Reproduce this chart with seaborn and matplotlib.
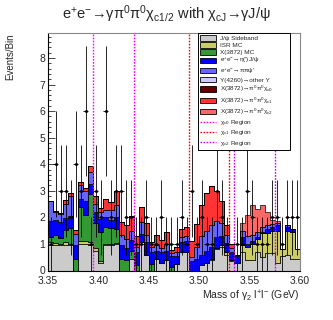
import numpy as np
import pandas as pd
import matplotlib
matplotlib.use("Agg")
import matplotlib.pyplot as plt
import seaborn as sns
from matplotlib.patches import Patch
from matplotlib.lines import Line2D
from matplotlib.ticker import MultipleLocator, FormatStrFormatter

# ---------------- data ----------------
x_min, x_max, n_bins = 3.35, 3.60, 50

sideband = [0.96, 0.96, 0.96, 0.96, 0.96, 0.0, 1.0, 1.0, 0.96, 0.74,
            0.3, 0.96, 0.96, 1.0, 0.0, 0.0, 0.45, 0.0, 1.08, 0.58,
            0.0, 0.45, 0.3, 0.4, 0.0, 0.26, 0.7, 0.7, 0.0, 0.0,
            0.2, 0.3, 0.4, 0.8, 0.9, 0.6, 0.35, 0.3, 0.7, 0.4,
            0.4, 0.7, 0.5, 0.65, 0.65, 0.3, 0.55, 0.6, 0.45, 0.45]
isr_mc = [0.1, 0.08, 0.05, 0.1, 0.05, 0.0, 0.1, 0.1, 0.12, 0.1,
          0.05, 0.05, 0.05, 0.05, 0.0, 0.0, 0.0, 0.0, 0.0, 0.0,
          0.0, 0.0, 0.0, 0.0, 0.0, 0.0, 0.0, 0.0, 0.0, 0.0,
          0.0, 0.0, 0.02, 0.05, 0.05, 0.1, 0.05, 0.0, 0.25, 0.5,
          0.6, 0.5, 0.9, 0.75, 0.85, 1.2, 0.25, 0.9, 1.0, 0.35]
x3872_mc = [0.2, 0.3, 0.22, 0.45, 0.6, 0.45, 1.3, 1.0, 1.8, 0.94,
            1.1, 0.63, 0.6, 0.5, 0.45, 0.4, 0.3, 0.2, 0.0, 0.0,
            0.26, 0.0, 0.0, 0.0, 0.14, 0.0, 0.0, 0.0, 0.0, 0.0,
            0.0, 0.0, 0.0, 0.0, 0.0, 0.0, 0.0, 0.0, 0.0, 0.0,
            0.0, 0.0, 0.0, 0.0, 0.0, 0.0, 0.0, 0.0, 0.0, 0.0]
eta_jpsi = [0.6, 0.55, 0.6, 0.45, 0.45, 0.5, 0.3, 0.5, 0.38, 0.44,
            0.5, 0.38, 0.3, 0.45, 0.5, 0.45, 0.4, 0.5, 0.3, 0.5,
            0.44, 0.3, 0.4, 0.35, 0.4, 0.3, 0.38, 0.4, 0.35, 0.45,
            0.4, 0.45, 0.45, 0.4, 0.35, 0.35, 0.3, 0.25, 0.3, 0.1,
            0.1, 0.05, 0.05, 0.15, 0.15, 0.2, 0.0, 0.15, 0.1, 0.0]
pipi_psip = [0.75, 0.3, 0.3, 0.55, 0.75, 0.44, 0.5, 0.4, 0.44, 0.3,
             0.25, 0.25, 0.38, 0.45, 0.38, 0.35, 0.35, 0.2, 0.45, 0.25,
             0.19, 0.2, 0.15, 0.25, 0.1, 0.14, 0.19, 0.2, 0.15, 0.45,
             0.7, 0.75, 0.85, 0.6, 0.5, 0.3, 0.15, 0.05, 0.25, 0.3,
             0.25, 0.2, 0.2, 0.15, 0.1, 0.1, 0.0, 0.05, 0.0, 0.0]
y4260_other = [0.0] * n_bins
x_chic0 = [0.0] * n_bins
x_chic1 = [0.0, 0.05, 0.05, 0.14, 0.12, 0.13, 0.12, 0.1, 0.25, 0.3,
           0.15, 0.44, 0.28, 0.55, 0.5, 0.5, 0.55, 0.4, 0.57, 0.44,
           0.19, 0.38, 0.3, 0.46, 0.13, 0.2, 0.31, 0.35, 0.6, 0.85,
           1.15, 1.4, 1.45, 1.15, 0.8, 0.35, 0.15, 0.0, 0.0, 0.0,
           0.0, 0.0, 0.0, 0.0, 0.0, 0.0, 0.0, 0.0, 0.0, 0.0]
x_chic2 = [0.0] * 37 + [0.0, 0.3, 0.8, 1.1, 0.85, 0.8, 0.5, 0.15, 0.05,
                        0.0, 0.0, 0.0, 0.0]
data_counts = [1, 4, 3, 3, 2, 4, 3, 6, 1, 3,
               2, 6, 2, 3, 3, 2, 2, 1, 1, 2,
               1, 1, 2, 1, 1, 1, 2, 1, 3, 1,
               2, 1, 1, 3, 2, 1, 0, 1, 1, 3,
               2, 1, 1, 1, 2, 2, 1, 2, 2, 2]

chic0_region = [3.395, 3.435]
chic1_region = [3.49, 3.53]
chic2_region = [3.535, 3.575]

components = ["J/ψ Sideband", "ISR MC", "X(3872) MC",
              "e$^{+}$e$^{-}$→η(')J/ψ", "e$^{+}$e$^{-}$→ππψ'",
              "Y(4260)→other Y",
              "X(3872)→π$^{0}$π$^{0}$χ$_{c0}$",
              "X(3872)→π$^{0}$π$^{0}$χ$_{c1}$",
              "X(3872)→π$^{0}$π$^{0}$χ$_{c2}$"]
series = [sideband, isr_mc, x3872_mc, eta_jpsi, pipi_psip, y4260_other,
          x_chic0, x_chic1, x_chic2]
colors = ["#cbcbcb", "#cccc66", "#339933", "#0000ff", "#6666ff",
          "#ccccff", "#660000", "#ff3333", "#ff6666"]
region_colors = ["#ff00ff", "#ff0000", "#cc00ff"]
region_labels = ["χ$_{c0}$ Region", "χ$_{c1}$ Region", "χ$_{c2}$ Region"]

# ---------------- build table ----------------
edges = np.linspace(x_min, x_max, n_bins + 1)
centers = 0.5 * (edges[:-1] + edges[1:])
rows = []
for name, vals in zip(components, series):
    for c, v in zip(centers, vals):
        rows.append({"mass": c, "w": v, "comp": name})
df = pd.DataFrame(rows)

# ---------------- style ----------------
sns.set_theme(style="ticks")
plt.rcParams["font.family"] = ["Liberation Sans", "DejaVu Sans"]
plt.rcParams["mathtext.default"] = "regular"

fig = plt.figure(figsize=(3.33, 3.20), dpi=100)
ax = fig.add_axes([48 / 333, 1 - 270.5 / 320, 252 / 333, 237.5 / 320])

palette = dict(zip(components, colors))
sns.histplot(data=df, x="mass", weights="w", hue="comp",
             hue_order=components[::-1], multiple="stack",
             bins=[float(e) for e in edges],
             element="step", palette=palette, alpha=1, edgecolor="black",
             linewidth=0.5, legend=False, ax=ax)

d = np.array(data_counts, dtype=float)
m = d > 0
ax.errorbar(centers[m], d[m], xerr=(edges[1] - edges[0]) / 2,
            yerr=np.sqrt(d[m]), fmt="o", ms=1.2, color="black",
            elinewidth=0.6, capsize=0, zorder=6)

for reg, col in zip([chic0_region, chic1_region, chic2_region], region_colors):
    for xv in reg:
        ax.axvline(xv, color=col, ls=(0, (1.2, 1.0)), lw=1.0, zorder=5)

ax.set_xlim(x_min, x_max)
ax.set_ylim(0, 8.94)
ax.xaxis.set_major_locator(MultipleLocator(0.05))
ax.xaxis.set_minor_locator(MultipleLocator(0.01))
ax.xaxis.set_major_formatter(FormatStrFormatter("%.2f"))
ax.yaxis.set_major_locator(MultipleLocator(1))
ax.yaxis.set_minor_locator(MultipleLocator(0.2))
ax.tick_params(which="both", direction="in", top=False, right=False,
               labelsize=7.5, width=0.6)
ax.tick_params(axis="x", pad=4)
ax.tick_params(axis="y", pad=2)
ax.tick_params(which="major", length=5)
ax.tick_params(which="minor", length=2.5)
for s in ["left", "bottom"]:
    ax.spines[s].set_color("black")
    ax.spines[s].set_linewidth(0.8)
for s in ["top", "right"]:
    ax.spines[s].set_color("#888888")
    ax.spines[s].set_linewidth(0.8)

ax.set_xlabel("Mass of γ$_{2}$ l$^{+}$l$^{-}$ (GeV)", loc="right",
              fontsize=7.5, labelpad=2)
ax.set_ylabel("Events/Bin", loc="top", fontsize=7, labelpad=17)

fig.text(0.5, 0.955, "e$^{+}$e$^{-}$→γπ$^{0}$π$^{0}$χ$_{c1/2}$ with χ$_{cJ}$→γJ/ψ",
         ha="center", va="center", fontsize=10.5)

handles = [Patch(facecolor=c, edgecolor="black", linewidth=0.6)
           for c in colors]
handles += [Line2D([0], [0], color=c, ls=(0, (1.2, 1.0)), lw=1.0)
            for c in region_colors]
labels = components + region_labels
leg = ax.legend(handles, labels, loc="upper left", mode="expand",
                bbox_to_anchor=(198 / 333, 1 - 148 / 320, 92 / 333, 115 / 320),
                bbox_transform=fig.transFigure, fontsize=4.6,
                frameon=True, fancybox=False, edgecolor="black",
                framealpha=1, borderpad=0.35, labelspacing=0.18,
                handlelength=2.5, handleheight=0.9, handletextpad=0.6,
                borderaxespad=0)
leg.get_frame().set_linewidth(0.7)
leg.set_zorder(10)

fig.savefig("out.png", dpi=100)
